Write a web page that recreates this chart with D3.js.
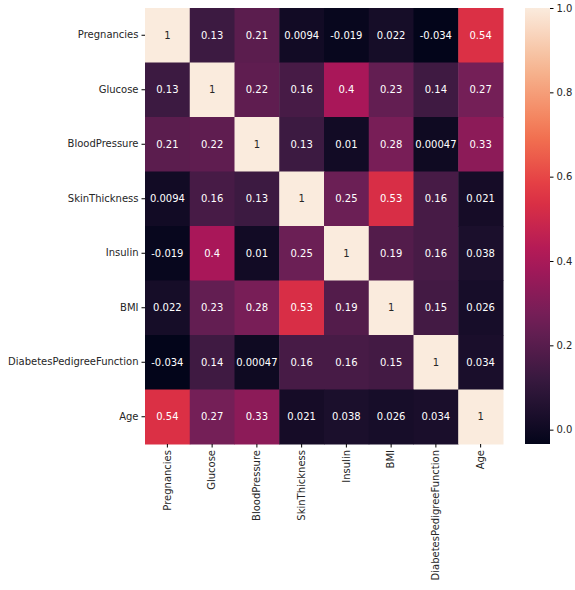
<!DOCTYPE html>
<html><head><meta charset="utf-8">
<script src="https://cdn.jsdelivr.net/npm/d3@7"></script>
<style>body{margin:0;background:#fff}text{font-family:"DejaVu Sans",sans-serif}</style>
</head><body><svg id="c" width="575" height="590"></svg>
<script>
const labels=["Pregnancies","Glucose","BloodPressure","SkinThickness","Insulin","BMI","DiabetesPedigreeFunction","Age"];
const matrix=[
[1,0.13,0.21,0.0094,-0.019,0.022,-0.034,0.54],
[0.13,1,0.22,0.16,0.4,0.23,0.14,0.27],
[0.21,0.22,1,0.13,0.01,0.28,0.00047,0.33],
[0.0094,0.16,0.13,1,0.25,0.53,0.16,0.021],
[-0.019,0.4,0.01,0.25,1,0.19,0.16,0.038],
[0.022,0.23,0.28,0.53,0.19,1,0.15,0.026],
[-0.034,0.14,0.00047,0.16,0.16,0.15,1,0.034],
[0.54,0.27,0.33,0.021,0.038,0.026,0.034,1]];
const cbTicks=[0,0.2,0.4,0.6,0.8,1.0];
const rocketStops=["#03051a","#35193e","#701f57","#ad1759","#e13342","#f37651","#f6b48f","#faebdd"];
const vmin=d3.min(matrix.flat()),vmax=1;
const interp=d3.scaleLinear().domain(d3.range(8).map(i=>i/7)).range(rocketStops).interpolate(d3.interpolateRgb);
const color=v=>interp((v-vmin)/(vmax-vmin));
const svg=d3.select("#c");
const L=145,T=8,W=358,H=436;
const x=d3.scaleBand().domain(labels).range([L,L+W]);
const y=d3.scaleBand().domain(labels).range([T,T+H]);
const cells=[];matrix.forEach((r,i)=>r.forEach((v,j)=>cells.push({i,j,v})));
svg.selectAll("rect.c").data(cells).enter().append("rect")
 .attr("x",d=>x(labels[d.j])).attr("y",d=>y(labels[d.i]))
 .attr("width",x.bandwidth()+0.5).attr("height",y.bandwidth()+0.5).attr("fill",d=>color(d.v));
svg.selectAll("text.v").data(cells).enter().append("text")
 .attr("x",d=>x(labels[d.j])+x.bandwidth()/2).attr("y",d=>y(labels[d.i])+y.bandwidth()/2)
 .attr("text-anchor","middle").attr("dominant-baseline","central").attr("font-size",10)
 .attr("fill",d=>{const c=d3.rgb(color(d.v));const l=(0.2126*c.r+0.7152*c.g+0.0722*c.b)/255;return l>0.408?"#262626":"#fff";})
 .text(d=>d.v===1?"1":String(d.v));
const ya=svg.append("g").attr("transform",`translate(${L},0)`).call(d3.axisLeft(y).tickSize(3.5));
ya.select(".domain").remove();
ya.selectAll("text").attr("font-size",10).attr("fill","#262626");
const xa=svg.append("g").attr("transform",`translate(0,${T+H})`).call(d3.axisBottom(x).tickSize(3.5));
xa.select(".domain").remove();
xa.selectAll("text").attr("font-size",10).attr("fill","#262626").attr("transform","rotate(-90)")
 .attr("text-anchor","end").attr("x",-6).attr("y",0).attr("dy","0.32em");
// colorbar
const cbx=525,cbw=25;
const cy=d3.scaleLinear().domain([vmin,vmax]).range([T+H,T]);
const defs=svg.append("defs");
const g=defs.append("linearGradient").attr("id","g").attr("x1",0).attr("y1",1).attr("x2",0).attr("y2",0);
d3.range(0,1.001,0.05).forEach(t=>g.append("stop").attr("offset",t).attr("stop-color",interp(t)));
svg.append("rect").attr("x",cbx).attr("y",T).attr("width",cbw).attr("height",H).attr("fill","url(#g)");
const ca=svg.append("g").attr("transform",`translate(${cbx+cbw},0)`).call(d3.axisRight(cy).tickValues(cbTicks).tickFormat(d3.format(".1f")).tickSize(3.5));
ca.select(".domain").remove();
ca.selectAll("text").attr("font-size",10).attr("fill","#262626");
</script></body></html>
